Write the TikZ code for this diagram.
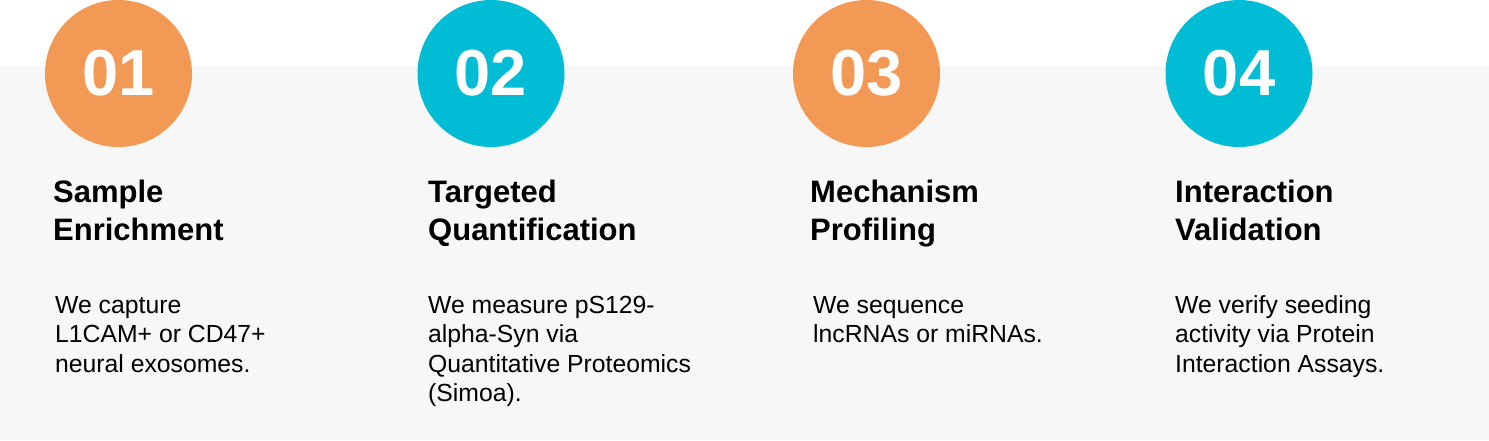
\documentclass[tikz,border=0pt]{standalone}
\usepackage{fontspec}
\setmainfont{Liberation Sans}
\usetikzlibrary{positioning}
\definecolor{stepOrange}{HTML}{F29A55}
\definecolor{stepCyan}{HTML}{00BCD4}
\definecolor{panelGrey}{HTML}{F7F7F7}

\begin{document}
\begin{tikzpicture}[x=1pt, y=-1pt]
\tikzstyle{every node}=[inner sep=0pt]
\tikzstyle{num}=[circle, minimum size=147pt, text=white, font=\fontsize{65}{65}\selectfont\bfseries]
\tikzstyle{head}=[anchor=base west, align=left, font=\fontsize{31}{38}\selectfont\bfseries]
\tikzstyle{body}=[anchor=base west, align=left, font=\fontsize{24.75}{29.5}\selectfont]
\useasboundingbox (0,0) rectangle (1489,440);
\fill[white] (0,0) rectangle (1489,440);
\fill[panelGrey] (0,66) rectangle (1489,440);

% step circles
\node[num, fill=stepOrange] (n1) at (118.5,73.5) {01};
\node[num, fill=stepCyan]   (n2) at (491,73.5)   {02};
\node[num, fill=stepOrange] (n3) at (866.5,73.5) {03};
\node[num, fill=stepCyan]   (n4) at (1239,73.5)  {04};

% headings (base = last line)
\node[head] (h1) at (53,240)   {Sample\\Enrichment};
\node[head] (h2) at (428,240)  {Targeted\\Quantification};
\node[head] (h3) at (810,240)  {Mechanism\\Profiling};
\node[head] (h4) at (1175,240) {Interaction\\Validation};

% descriptions
\node[body] (d1) at (55,372)    {We capture\\L1CAM+ or CD47+\\neural exosomes.};
\node[body] (d2) at (428,401.5) {We measure pS129-\\alpha-Syn via\\Quantitative Proteomics\\(Simoa).};
\node[body] (d3) at (813,342.5) {We sequence\\lncRNAs or miRNAs.};
\node[body] (d4) at (1175,372)  {We verify seeding\\activity via Protein\\Interaction Assays.};
\end{tikzpicture}
\end{document}
